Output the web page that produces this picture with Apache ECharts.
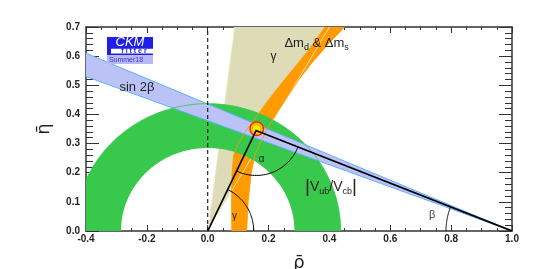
<!DOCTYPE html>
<html><head><meta charset="utf-8">
<script src="https://cdn.jsdelivr.net/npm/echarts@6/dist/echarts.min.js"></script>
<style>html,body{margin:0;padding:0;background:#fff}#c{width:540px;height:269px}</style>
</head><body><div id="c"></div>
<script>
// ---- data ----
const xTickValues = [-0.4, -0.2, 0.0, 0.2, 0.4, 0.6, 0.8, 1.0];
const yTickValues = [0.0, 0.1, 0.2, 0.3, 0.4, 0.5, 0.6, 0.7];
// unitarity triangle
const apex = [0.159, 0.345];
const triangleOrigin = [0, 0];
const triangleRight = [1, 0];
// |Vub/Vcb| ring (centred at origin): inner, outer radius
const vubRadii = [0.285, 0.437];
// sin2beta band: edges from (1,0) to rho = -0.4
const sin2bApex = [1, 0];
const sin2bLow = [-0.4, 0.53];
const sin2bHigh = [-0.4, 0.61];
// gamma wedge from origin: edge points at eta = 0.7
const gammaLeftEdge = [0.088, 0.7];
const gammaRightEdge = [0.40, 0.7];
// Delta m_d & Delta m_s band edges
const dmLeftEdge = [[0.079,0],[0.078,0.1],[0.080,0.2],[0.085,0.26],[0.10,0.30],[0.13,0.35],[0.165,0.40],[0.20,0.45],[0.245,0.51],[0.30,0.58],[0.345,0.64],[0.385,0.70]];
const dmRightEdge = [[0.128,0],[0.133,0.1],[0.143,0.2],[0.155,0.26],[0.172,0.30],[0.200,0.36],[0.230,0.41],[0.262,0.46],[0.30,0.52],[0.345,0.58],[0.395,0.64],[0.450,0.70]];
// global fit region around the apex
const apexCenter = [0.161, 0.351];
const apexOuterRadii = [0.022, 0.023];
const apexInnerRadii = [0.014, 0.014];

const FONT = 'Liberation Sans';
const chart = echarts.init(document.getElementById('c'));

function arcPts(api, c, rx, ry, a0, a1, n) {
  const pts = [];
  for (let i = 0; i <= n; i++) {
    const a = a0 + (a1 - a0) * i / n;
    pts.push(api.coord([c[0] + rx * Math.cos(a), c[1] + ry * Math.sin(a)]));
  }
  return pts;
}
function pxArc(cx, cy, r, a0, a1, n) {
  const pts = [];
  for (let i = 0; i <= n; i++) {
    const a = a0 + (a1 - a0) * i / n;
    pts.push([cx + r * Math.cos(a), cy + r * Math.sin(a)]);
  }
  return pts;
}

function layer(render) {
  return { type: 'custom', coordinateSystem: 'cartesian2d', xAxisIndex: 0, yAxisIndex: 0,
    clip: true, silent: true, data: [0], renderItem: (p, api) => render(api) };
}

const colTan = '#dedcb6', colOrange = '#ff9a00', colGreen = '#38c84b', colBlue = '#bac2f6', colBlueEdge = '#5fb0ff';

const series = [
  layer(api => ({ type: 'polygon', shape: { points: [api.coord(triangleOrigin), api.coord(gammaLeftEdge), api.coord(gammaRightEdge)] }, style: { fill: colTan } })),
  layer(api => ({ type: 'polygon', shape: { points: dmLeftEdge.map(p => api.coord(p)).concat(dmRightEdge.slice().reverse().map(p => api.coord(p))) }, style: { fill: colOrange } })),
  layer(api => ({ type: 'group', children: [
    { type: 'polyline', shape: { points: [api.coord(triangleOrigin), api.coord(gammaRightEdge)] }, style: { stroke: '#f4f2dc', lineWidth: 0.8, fill: null } },
    { type: 'polyline', shape: { points: [api.coord(triangleOrigin), api.coord(gammaLeftEdge)] }, style: { stroke: '#f4f2dc', lineWidth: 0.8, fill: null } }
  ] })),
  layer(api => ({ type: 'polygon', shape: { points: arcPts(api, triangleOrigin, vubRadii[1], vubRadii[1], 0, Math.PI, 120).concat(arcPts(api, triangleOrigin, vubRadii[0], vubRadii[0], Math.PI, 0, 120)) }, style: { fill: colGreen } })),
  layer(api => ({ type: 'group', children: [
    { type: 'polygon', shape: { points: [api.coord(sin2bApex), api.coord(sin2bHigh), api.coord(sin2bLow)] }, style: { fill: colBlue } },
    { type: 'polyline', shape: { points: [api.coord(sin2bApex), api.coord(sin2bHigh)] }, style: { stroke: colBlueEdge, lineWidth: 1, fill: null } },
    { type: 'polyline', shape: { points: [api.coord(sin2bApex), api.coord(sin2bLow)] }, style: { stroke: colBlueEdge, lineWidth: 1, fill: null } }
  ] })),
  layer(api => ({ type: 'group', children: [
    { type: 'polyline', shape: { points: arcPts(api, triangleOrigin, vubRadii[1], vubRadii[1], 0, Math.PI, 120) }, style: { stroke: colGreen, lineWidth: 0.8, fill: null } },
    { type: 'polyline', shape: { points: dmLeftEdge.map(p => api.coord(p)) }, style: { stroke: colOrange, lineWidth: 0.8, fill: null } },
    { type: 'polyline', shape: { points: dmRightEdge.map(p => api.coord(p)) }, style: { stroke: colOrange, lineWidth: 0.8, fill: null } }
  ] })),
  layer(api => ({ type: 'line', shape: { x1: api.coord([0, 0])[0], y1: api.coord([0, 0])[1], x2: api.coord([0, 0.7])[0], y2: api.coord([0, 0.7])[1] }, style: { stroke: '#111', lineWidth: 1.1, lineDash: [4, 3] } })),
  layer(api => ({ type: 'group', children: [
    { type: 'polygon', shape: { points: arcPts(api, apexCenter, apexOuterRadii[0], apexOuterRadii[1], 0, 2 * Math.PI, 60) }, style: { fill: '#ffd400', stroke: '#ff2a00', lineWidth: 1.6 } },
    { type: 'polygon', shape: { points: arcPts(api, apexCenter, apexInnerRadii[0], apexInnerRadii[1], 0, 2 * Math.PI, 60) }, style: { fill: '#ffee00', stroke: '#ff7a00', lineWidth: 0.8 } }
  ] })),
  layer(api => {
    const o = api.coord(triangleOrigin), a = api.coord(apex), r = api.coord(triangleRight);
    const angOA = Math.atan2(a[1] - o[1], a[0] - o[0]);
    const angAO = Math.atan2(o[1] - a[1], o[0] - a[0]);
    const angAR = Math.atan2(r[1] - a[1], r[0] - a[0]);
    const angRA = Math.atan2(a[1] - r[1], a[0] - r[0]);
    const st = { stroke: '#000', lineWidth: 1, fill: null };
    return { type: 'group', children: [
      { type: 'polyline', shape: { points: pxArc(o[0], o[1], 46, 0, angOA, 40) }, style: st },
      { type: 'polyline', shape: { points: pxArc(a[0], a[1], 45, angAO, angAR, 40) }, style: st },
      { type: 'polyline', shape: { points: pxArc(r[0], r[1], 66, angRA, -Math.PI, 40) }, style: st },
      { type: 'polyline', shape: { points: [o, a, r] }, style: { stroke: '#000', lineWidth: 1.7, fill: null } }
    ] };
  }),
  layer(api => {
    const t = (pos, text, size, extra) => {
      const c = api.coord(pos);
      return { type: 'text', x: c[0], y: c[1], style: Object.assign({ text, fill: '#222', font: size + 'px "' + FONT + '"', align: 'left', verticalAlign: 'middle' }, extra || {}) };
    };
    return { type: 'group', children: [
      t([-0.29, 0.492], 'sin 2β', 13),
      t([0.206, 0.597], 'γ', 12),
      t([0.252, 0.645], '', 13, { text: 'Δm{s|d} & Δm{s|s}', rich: { s: { fontSize: 9, fontFamily: FONT, fill: '#222', padding: [9, 0, 0, 0] } } }),
      t([0.320, 0.152], '', 14, { text: '{b||}V{s|ub}/V{s|cb}{b||}', rich: { b: { fontSize: 19, fontFamily: FONT, fill: '#222' }, s: { fontSize: 9, fontFamily: FONT, fill: '#222', padding: [9, 0, 0, 0] } } }),
      t([0.168, 0.247], 'α', 10),
      t([0.080, 0.050], 'γ', 10),
      t([0.727, 0.055], 'β', 11, { fill: '#444' })
    ] };
  })
];

const axisCommon = (pos, splitN, major, minor) => ({
  type: 'value', position: pos,
  axisLine: { show: true, onZero: false, lineStyle: { color: '#333', width: 1.5 } },
  axisTick: { show: true, inside: true, length: major, lineStyle: { color: '#333', width: 1 } },
  minorTick: { show: true, splitNumber: splitN, length: minor, lineStyle: { color: '#333', width: 1 } },
  splitLine: { show: false },
});

chart.setOption({
  animation: false,
  grid: { left: 86, right: 28, top: 27, bottom: 38, containLabel: false, outerBoundsMode: 'none' },
  xAxis: [
    Object.assign(axisCommon('bottom', 4, 6, 3), { min: xTickValues[0], max: xTickValues[xTickValues.length - 1], interval: 0.2,
      axisLabel: { margin: 3, fontSize: 10, fontWeight: 'bold', fontFamily: FONT, color: '#222', formatter: v => v.toFixed(1) },
      name: 'ρ̄', nameLocation: 'middle', nameGap: 23, nameTextStyle: { fontSize: 18, fontFamily: 'DejaVu Sans', color: '#222' } }),
    Object.assign(axisCommon('top', 4, 6, 3), { min: xTickValues[0], max: xTickValues[xTickValues.length - 1], interval: 0.2, axisLabel: { show: false } })
  ],
  yAxis: [
    Object.assign(axisCommon('left', 5, 13, 7), { min: yTickValues[0], max: yTickValues[yTickValues.length - 1], interval: 0.1,
      axisLabel: { margin: 6, fontSize: 10, fontWeight: 'bold', fontFamily: FONT, color: '#222', formatter: v => v.toFixed(1) },
      name: 'η̄', nameLocation: 'middle', nameGap: 33, nameRotate: 90, nameTextStyle: { fontSize: 18, fontFamily: 'DejaVu Sans', color: '#222' } }),
    Object.assign(axisCommon('right', 5, 13, 7), { min: yTickValues[0], max: yTickValues[yTickValues.length - 1], interval: 0.1, axisLabel: { show: false } })
  ],
  series: series,
  graphic: [
    { type: 'rect', shape: { x: 107, y: 37, width: 46, height: 11 }, style: { fill: '#1f1fe8' }, z: 100 },
    { type: 'text', x: 130, y: 42.5, style: { text: 'CKM', fill: '#fff', font: 'italic 13px "' + FONT + '"', align: 'center', verticalAlign: 'middle' }, z: 101 },
    { type: 'rect', shape: { x: 107, y: 48, width: 46, height: 7 }, style: { fill: '#1f1fe8' }, z: 100 },
    { type: 'rect', shape: { x: 111, y: 48.8, width: 42, height: 4.6 }, style: { fill: '#fff' }, z: 100 },
    { type: 'text', x: 134, y: 51.3, style: { text: 'f i t t e r', fill: '#1f1fe8', font: 'bold 7px "' + FONT + '"', align: 'center', verticalAlign: 'middle' }, z: 101 },
    { type: 'rect', shape: { x: 107, y: 55, width: 46, height: 9 }, style: { fill: '#b7b9f2' }, z: 100 },
    { type: 'text', x: 126, y: 60, style: { text: 'Summer18', fill: '#3a3ae0', font: '7px "' + FONT + '"', align: 'center', verticalAlign: 'middle' }, z: 101 }
  ]
});
</script></body></html>
